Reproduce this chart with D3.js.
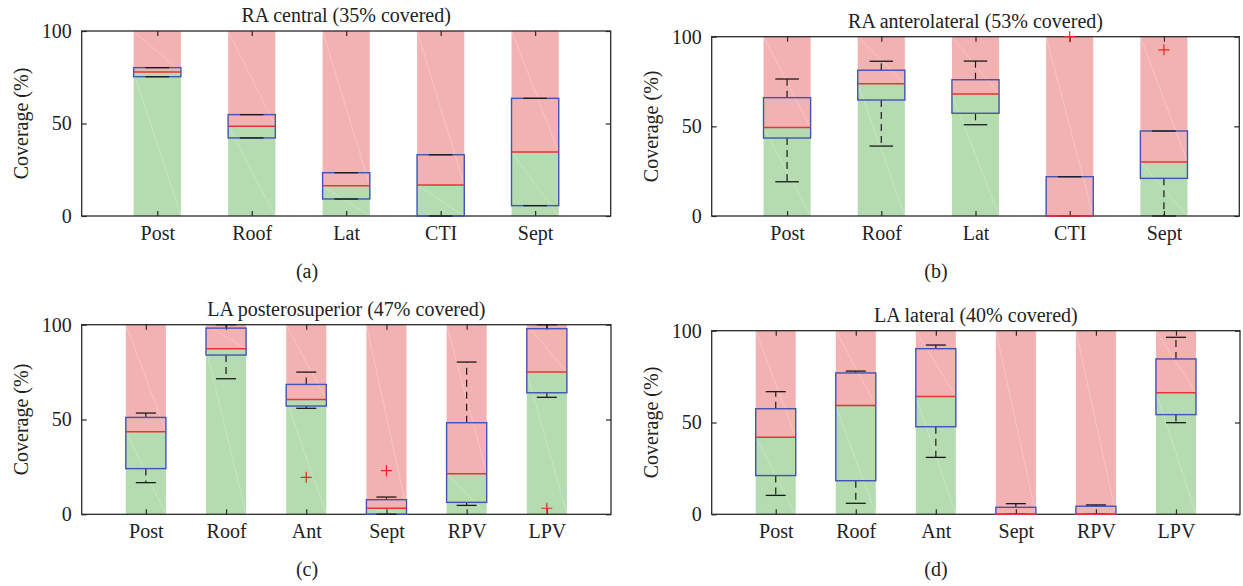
<!DOCTYPE html>
<html>
<head>
<meta charset="utf-8">
<script src="https://cdn.jsdelivr.net/npm/d3@7"></script>
<style>
  html, body { margin: 0; padding: 0; background: #fff; }
  svg { display: block; }
  text { font-family: "Liberation Serif", "DejaVu Serif", serif; fill: #222; }
</style>
</head>
<body>
<svg id="chart" width="1243" height="586"></svg>
<script>
// ---- Coverage per region (%), box-plot statistics ----
const yTicks = [0, 50, 100];

// (a) RA central
const raCentralTitle = "RA central (35% covered)";
const raCentralCats = ["Post", "Roof", "Lat", "CTI", "Sept"];
const raCentralLo  = [75.3, 42.2,  9.2,  0.0,  5.6];
const raCentralQ1  = [75.3, 42.2,  9.2,  0.0,  5.6];
const raCentralMed = [77.8, 48.5, 16.4, 16.8, 34.6];
const raCentralQ3  = [80.2, 54.8, 23.4, 33.1, 63.6];
const raCentralHi  = [80.2, 54.8, 23.4, 33.1, 63.6];
const raCentralOut = [];

// (b) RA anterolateral
const raAnteroTitle = "RA anterolateral (53% covered)";
const raAnteroCats = ["Post", "Roof", "Lat", "CTI", "Sept"];
const raAnteroLo  = [19.1, 39.0, 50.9,  0.0,  0.0];
const raAnteroQ1  = [43.5, 64.7, 57.3,  0.0, 21.0];
const raAnteroMed = [49.3, 73.8, 68.0,  0.0, 30.1];
const raAnteroQ3  = [66.0, 81.3, 76.0, 21.9, 47.4];
const raAnteroHi  = [76.4, 86.3, 86.4, 21.9, 47.4];
const raAnteroOut = [["CTI", 100], ["Sept", 92.7]];

// (c) LA posterosuperior
const laPostTitle = "LA posterosuperior (47% covered)";
const laPostCats = ["Post", "Roof", "Ant", "Sept", "RPV", "LPV"];
const laPostLo  = [16.7, 71.5, 55.9, 0.0,  4.7, 61.7];
const laPostQ1  = [24.1, 84.0, 57.1, 0.0,  6.3, 64.1];
const laPostMed = [43.6, 87.3, 60.5, 3.2, 21.4, 75.0];
const laPostQ3  = [51.1, 98.2, 68.5, 7.7, 48.3, 97.9];
const laPostHi  = [53.4, 100,  75.0, 9.1, 80.3, 100];
const laPostOut = [["Ant", 19.5], ["Sept", 23.0], ["LPV", 3.2]];

// (d) LA lateral
const laLatTitle = "LA lateral (40% covered)";
const laLatCats = ["Post", "Roof", "Ant", "Sept", "RPV", "LPV"];
const laLatLo  = [10.3,  6.0, 31.0, 0.0, 0.0, 49.9];
const laLatQ1  = [21.1, 18.3, 47.7, 0.0, 0.0, 54.3];
const laLatMed = [41.9, 59.2, 64.1, 0.0, 0.0, 66.2];
const laLatQ3  = [57.5, 77.0, 90.2, 3.8, 4.4, 84.6];
const laLatHi  = [66.8, 78.0, 92.2, 5.8, 5.1, 96.4];
const laLatOut = [];

// ---- Layout of the four panels ----
const panels = [
  { title: raCentralTitle, tag: "(a)", cats: raCentralCats, lo: raCentralLo, q1: raCentralQ1, med: raCentralMed, q3: raCentralQ3, hi: raCentralHi, out: raCentralOut,
    box: { l: 81.7, r: 610.7, t: 31, b: 216 }, tagX: 307, tagY: 278 },
  { title: raAnteroTitle, tag: "(b)", cats: raAnteroCats, lo: raAnteroLo, q1: raAnteroQ1, med: raAnteroMed, q3: raAnteroQ3, hi: raAnteroHi, out: raAnteroOut,
    box: { l: 711.7, r: 1239.3, t: 36.7, b: 216 }, tagX: 936, tagY: 278 },
  { title: laPostTitle, tag: "(c)", cats: laPostCats, lo: laPostLo, q1: laPostQ1, med: laPostMed, q3: laPostQ3, hi: laPostHi, out: laPostOut,
    box: { l: 81.7, r: 611, t: 324.7, b: 514.3 }, tagX: 307, tagY: 576 },
  { title: laLatTitle, tag: "(d)", cats: laLatCats, lo: laLatLo, q1: laLatQ1, med: laLatMed, q3: laLatQ3, hi: laLatHi, out: laLatOut,
    box: { l: 711.7, r: 1240, t: 330.7, b: 514.3 }, tagX: 936, tagY: 576 }
];

const COL = {
  red: "#f3b2b2", green: "#b4dcb0", box: "#3f54b4", median: "#ea3236",
  whisker: "#1a1a1a", frame: "#2a2a2a", outlier: "#ee2222"
};
const FS = 20;
const svg = d3.select("#chart");

panels.forEach(p => {
  const n = p.cats.length;
  const x = d3.scaleLinear().domain([0.2, n + 0.8]).range([p.box.l, p.box.r]);
  const y = d3.scaleLinear().domain([0, 100]).range([p.box.b, p.box.t]);
  const bw = x(1.5) - x(1);          // bar / box width = half a slot
  const cw = bw / 2;                 // whisker cap width
  const pos = p.cats.map((c, i) => i + 1);
  const g = svg.append("g");

  // coverage bars: green up to the median, red above it
  const bars = g.append("g");
  pos.forEach((k, i) => {
    const x0 = x(k) - bw / 2, x1 = x(k) + bw / 2;
    const segs = [
      { y0: y(100), y1: y(p.med[i]), fill: COL.red },
      { y0: y(p.med[i]), y1: y(0), fill: COL.green }
    ];
    segs.forEach(s => {
      if (s.y1 - s.y0 <= 0) return;
      bars.append("rect").attr("x", x0).attr("y", s.y0)
        .attr("width", bw).attr("height", s.y1 - s.y0).attr("fill", s.fill);
      bars.append("line").attr("x1", x0).attr("y1", s.y0).attr("x2", x1).attr("y2", s.y1)
        .attr("stroke", "#fff").attr("stroke-opacity", 0.35).attr("stroke-width", 0.7);
    });
  });

  // axes with inward ticks
  const tickStyle = sel => {
    sel.select(".domain").remove();
    sel.selectAll(".tick line").attr("stroke", COL.frame).attr("stroke-width", 1.2);
    sel.selectAll(".tick text").attr("font-size", FS).attr("fill", "#222")
      .attr("font-family", "Liberation Serif, serif");
  };
  g.append("g").attr("transform", `translate(${p.box.l},0)`)
    .call(d3.axisLeft(y).tickValues(yTicks).tickSize(-5).tickPadding(10).tickFormat(d3.format("d")))
    .call(tickStyle);
  g.append("g").attr("transform", `translate(${p.box.r},0)`)
    .call(d3.axisRight(y).tickValues(yTicks).tickSize(-5).tickFormat(""))
    .call(tickStyle);
  g.append("g").attr("transform", `translate(0,${p.box.b})`)
    .call(d3.axisBottom(x).tickValues(pos).tickSize(-5).tickPadding(10).tickFormat(k => p.cats[k - 1]))
    .call(tickStyle);
  g.append("g").attr("transform", `translate(0,${p.box.t})`)
    .call(d3.axisTop(x).tickValues(pos).tickSize(-5).tickFormat(""))
    .call(tickStyle);

  // frame
  g.append("rect").attr("x", p.box.l).attr("y", p.box.t)
    .attr("width", p.box.r - p.box.l).attr("height", p.box.b - p.box.t)
    .attr("fill", "none").attr("stroke", COL.frame).attr("stroke-width", 1.3);

  // box plots
  const bp = g.append("g");
  pos.forEach((k, i) => {
    const cx = x(k);
    // dashed whiskers
    [[p.q3[i], p.hi[i]], [p.q1[i], p.lo[i]]].forEach(([a, b]) => {
      if (Math.abs(a - b) > 0.01) {
        bp.append("line").attr("x1", cx).attr("x2", cx).attr("y1", y(a)).attr("y2", y(b))
          .attr("stroke", COL.whisker).attr("stroke-width", 1.2).attr("stroke-dasharray", "7,5");
      }
    });
    // box
    bp.append("rect").attr("x", cx - bw / 2).attr("y", y(p.q3[i]))
      .attr("width", bw).attr("height", y(p.q1[i]) - y(p.q3[i]))
      .attr("fill", "none").attr("stroke", COL.box).attr("stroke-width", 1.4);
    // whisker caps
    [p.hi[i], p.lo[i]].forEach(v => {
      bp.append("line").attr("x1", cx - cw / 2).attr("x2", cx + cw / 2)
        .attr("y1", y(v)).attr("y2", y(v))
        .attr("stroke", COL.whisker).attr("stroke-width", 1.3);
    });
    // median
    bp.append("line").attr("x1", cx - bw / 2).attr("x2", cx + bw / 2)
      .attr("y1", y(p.med[i])).attr("y2", y(p.med[i]))
      .attr("stroke", COL.median).attr("stroke-width", 1.5);
  });

  // outliers
  p.out.forEach(([cat, v]) => {
    const cx = x(p.cats.indexOf(cat) + 1), cy = y(v), h = 5.5;
    bp.append("path").attr("d", `M${cx - h},${cy}H${cx + h}M${cx},${cy - h}V${cy + h}`)
      .attr("stroke", COL.outlier).attr("stroke-width", 1.2).attr("fill", "none");
  });

  // titles and labels
  g.append("text").attr("x", (p.box.l + p.box.r) / 2).attr("y", p.box.t - 9)
    .attr("text-anchor", "middle").attr("font-size", FS).text(p.title);
  g.append("text")
    .attr("transform", `translate(${p.box.l - 61},${(p.box.t + p.box.b) / 2}) rotate(-90)`)
    .attr("text-anchor", "middle").attr("dy", "0.35em").attr("font-size", FS).text("Coverage (%)");
  g.append("text").attr("x", p.tagX).attr("y", p.tagY)
    .attr("text-anchor", "middle").attr("font-size", FS).text(p.tag);
});
</script>
</body>
</html>
